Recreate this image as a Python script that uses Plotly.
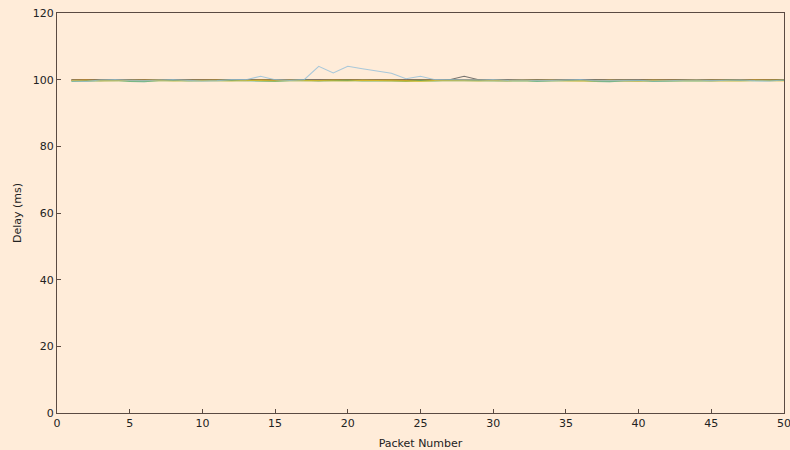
import plotly.graph_objects as go

packets = list(range(1, 51))

flow_black = [100.0, 100.0, 99.9, 100.0, 100.0, 100.0, 100.0, 100.0, 100.0, 100.0,
              100.0, 100.0, 100.0, 100.0, 100.0, 100.0, 100.0, 100.0, 100.0, 100.0,
              100.0, 100.0, 100.0, 100.0, 100.0, 100.0, 100.0, 101.0, 100.0, 100.0,
              100.0, 100.0, 100.0, 100.0, 100.0, 100.0, 100.0, 100.0, 100.0, 100.0,
              100.0, 100.0, 100.0, 100.0, 100.0, 100.0, 100.0, 100.0, 100.0, 100.0]
flow_skyblue = [99.6, 99.5, 99.9, 100.0, 99.8, 99.7, 99.9, 100.0, 99.8, 99.6,
                99.7, 100.0, 100.0, 101.0, 100.0, 99.8, 100.0, 104.0, 102.0, 104.0,
                103.3, 102.6, 101.9, 100.3, 101.0, 100.0, 99.9, 99.8, 99.9, 100.0,
                99.8, 99.9, 99.7, 99.8, 99.9, 100.0, 99.7, 99.8, 99.9, 99.8,
                99.6, 99.7, 99.8, 99.9, 99.7, 99.8, 99.9, 99.7, 99.6, 99.9]
flow_orange = [99.8, 99.9, 99.7, 99.8, 99.9, 99.8, 99.9, 99.8, 99.7, 99.8,
               99.9, 99.8, 99.7, 99.9, 99.8, 99.9, 99.8, 99.7, 99.9, 99.8,
               99.9, 99.8, 99.9, 99.7, 99.8, 99.9, 99.8, 99.8, 99.9, 99.8,
               99.7, 99.9, 99.8, 99.9, 99.8, 99.7, 99.8, 99.9, 99.8, 99.7,
               99.9, 99.8, 99.8, 99.9, 99.7, 99.8, 99.9, 99.8, 99.7, 99.9]
flow_green = [99.5, 99.6, 99.7, 99.8, 99.5, 99.4, 99.7, 99.8, 99.6, 99.7,
              99.6, 99.8, 99.7, 99.6, 99.5, 99.7, 99.8, 99.6, 99.7, 99.8,
              99.6, 99.7, 99.6, 99.5, 99.7, 99.6, 99.8, 99.7, 99.6, 99.7,
              99.6, 99.7, 99.5, 99.6, 99.7, 99.8, 99.5, 99.4, 99.6, 99.7,
              99.5, 99.6, 99.5, 99.7, 99.6, 99.8, 99.7, 99.6, 99.7, 99.8]
flow_yellow = [99.7, 99.6, 99.8, 99.7, 99.6, 99.7, 99.8, 99.6, 99.7, 99.8,
               99.7, 99.6, 99.8, 99.7, 99.6, 99.8, 99.7, 99.6, 99.7, 99.6,
               99.8, 99.7, 99.6, 99.7, 99.5, 99.7, 99.8, 99.7, 99.6, 99.8,
               99.7, 99.6, 99.7, 99.8, 99.6, 99.7, 99.6, 99.8, 99.7, 99.5,
               99.7, 99.6, 99.7, 99.8, 99.6, 99.7, 99.6, 99.8, 99.7, 99.6]
flow_blue = [99.9, 99.8, 100.0, 99.9, 99.8, 99.9, 100.0, 99.9, 99.8, 99.9,
             100.0, 99.9, 99.8, 99.9, 100.0, 99.9, 99.8, 99.9, 100.0, 99.9,
             99.8, 99.9, 100.0, 99.9, 99.8, 99.9, 100.0, 99.9, 99.8, 99.9,
             100.0, 99.9, 99.8, 99.9, 100.0, 99.9, 99.8, 99.9, 100.0, 99.9,
             99.8, 99.9, 100.0, 99.9, 99.8, 99.9, 100.0, 99.9, 99.8, 99.9]
flow_vermillion = [99.8, 99.9, 99.8, 99.9, 99.8, 99.9, 99.8, 99.9, 99.8, 99.9,
                   99.8, 99.9, 99.8, 99.9, 99.8, 99.9, 99.8, 99.9, 99.8, 99.9,
                   99.8, 99.9, 99.8, 99.9, 99.8, 99.9, 99.8, 99.9, 99.8, 99.9,
                   99.8, 99.9, 99.8, 99.9, 99.8, 99.9, 99.8, 99.9, 99.8, 99.9,
                   99.8, 99.9, 99.8, 99.9, 99.8, 99.9, 99.8, 99.9, 99.8, 99.9]
flow_gray = [99.9, 99.9, 100.0, 99.9, 99.9, 100.0, 99.9, 99.9, 100.0, 99.9,
             99.9, 100.0, 99.9, 99.9, 100.0, 99.9, 99.9, 100.0, 99.9, 99.9,
             100.0, 99.9, 99.9, 100.0, 99.9, 99.9, 100.0, 99.9, 99.9, 100.0,
             99.9, 99.9, 100.0, 99.9, 99.9, 100.0, 99.9, 99.9, 100.0, 99.9,
             99.9, 100.0, 99.9, 99.9, 100.0, 99.9, 99.9, 100.0, 99.9, 99.9]

series = [
    ("Flow 8", flow_black, "#4a4a4a"),
    ("Flow 7", flow_gray, "#a08c7c"),
    ("Flow 5", flow_blue, "#3a7fa8"),
    ("Flow 4", flow_vermillion, "#D55E00"),
    ("Flow 3", flow_orange, "#E69F00"),
    ("Flow 1", flow_green, "#2aa37f"),
    ("Flow 2", flow_yellow, "#E6C229"),
    ("Flow 6", flow_skyblue, "#8DBCDA"),
]

fig = go.Figure()
for name, vals, col in series:
    fig.add_trace(go.Scatter(x=packets, y=vals, mode="lines", name=name,
                             line=dict(color=col, width=1.1), opacity=0.75))

axis_col = "#5a4a42"
bg = "#FFECD9"
fig.update_layout(
    width=790, height=450,
    paper_bgcolor=bg, plot_bgcolor=bg,
    margin=dict(l=57, r=6, t=13, b=37, autoexpand=False),
    showlegend=False,
    font=dict(family="DejaVu Sans", size=11, color="#222222"),
)
fig.update_xaxes(range=[0, 50], tickvals=[0, 5, 10, 15, 20, 25, 30, 35, 40, 45, 50],
                 showgrid=False, zeroline=False, showline=True, mirror=True,
                 linecolor=axis_col, linewidth=1, ticks="inside", ticklen=4,
                 ticklabeloverflow="allow", automargin=False,
                 tickcolor=axis_col, title=dict(text="Packet Number", font=dict(size=11), standoff=10))
fig.update_yaxes(range=[0, 120], tickvals=[0, 20, 40, 60, 80, 100, 120],
                 showgrid=False, zeroline=False, showline=True, mirror=True,
                 linecolor=axis_col, linewidth=1, ticks="inside", ticklen=4,
                 automargin=False,
                 tickcolor=axis_col, title=dict(text="Delay (ms)", font=dict(size=11), standoff=8))

fig.write_html("out.html", config={"displayModeBar": False},
               post_script="document.body.style.margin='0';document.body.style.background='#FFECD9';")
